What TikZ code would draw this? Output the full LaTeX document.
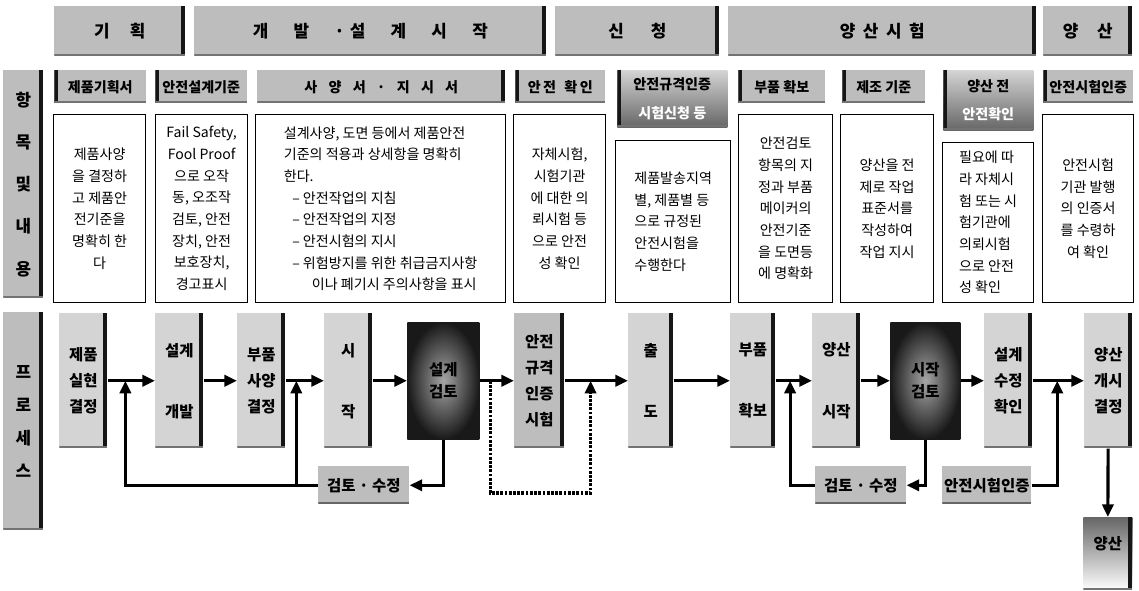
\documentclass[tikz,border=0pt]{standalone}
\usepackage{fontspec}
\setmainfont{Noto Sans CJK KR}
\usepackage{tikz}
\usetikzlibrary{arrows.meta,calc,positioning}
\definecolor{cinza}{HTML}{BDBDBD}
\definecolor{cinzaclaro}{HTML}{D4D4D4}
\definecolor{borda}{HTML}{161616}
\newcommand{\lgap}{\hspace{1.5em}}
\newcommand{\hgap}{\hspace{.8em}}

\begin{document}
\begin{tikzpicture}[x=0.025cm,y=-0.025cm,
  bx/.style args={#1,#2,#3,#4}{anchor=north west,inner sep=0pt,
    minimum width={(#3-#1)*0.025cm},minimum height={(#4-#2)*0.025cm},at={(#1,#2)}},
  sombra/.style={path picture={
    \fill[borda] ([xshift=-3pt]path picture bounding box.north east) rectangle (path picture bounding box.south east);
    \fill[black!55] ([yshift=1.4pt]path picture bounding box.south west) rectangle (path picture bounding box.south east);}},
  sombraesq/.style={path picture={
    \fill[borda] (path picture bounding box.north west) rectangle ([xshift=2.5pt]path picture bounding box.south west);
    \fill[black!55] ([yshift=1.4pt]path picture bounding box.south west) rectangle (path picture bounding box.south east);}},
  fase/.style={fill=cinza,sombra,font=\fontsize{12}{14}\selectfont\bfseries},
  lateral/.style={fill=cinza,sombra,align=center,font=\fontsize{12}{30}\selectfont\bfseries},
  cabec/.style={fill=cinza,sombraesq,align=center,font=\fontsize{10}{12}\selectfont\bfseries},
  cabecesc/.style={top color=cinzaclaro,bottom color=black!60,sombraesq,align=center,
    font=\fontsize{10}{20}\selectfont\bfseries},
  conteudo/.style={draw=black,line width=0.9pt,fill=white,align=center,
    font=\fontsize{10}{15.4}\selectfont},
  proc/.style={fill=cinzaclaro,sombra,align=center,font=\fontsize{11}{18.5}\selectfont\bfseries},
  escuro/.style={inner color=black!35,outer color=black!90,align=center,
    font=\fontsize{11}{16}\selectfont\bfseries},
  rotulo/.style={fill=cinza,inner sep=0pt,font=\fontsize{11}{13}\selectfont\bfseries,
    path picture={\fill[black!60] ([yshift=1.4pt]path picture bounding box.south west) rectangle (path picture bounding box.south east);}},
  final/.style={top color=black!60,bottom color=white,sombra,font=\fontsize{11}{13}\selectfont\bfseries},
  seta/.style={-{Triangle[length=9pt,width=8pt]},line width=2.2pt,black},
  tracejado/.style={-{Triangle[length=9pt,width=8pt]},line width=2.2pt,black,dash pattern=on 2pt off 1pt}
]
  \path[fill=white,use as bounding box] (0,0) rectangle (1139,591);

  \node[fase,bx={54,6,185,56}] (gihoek) {기\hspace{1.2em}획};
  \node[fase,bx={194,6,546,56}] (gaebal) {개\lgap 발\lgap ·\hspace{.3em}설\lgap 계\lgap 시\lgap 작};
  \node[fase,bx={555,6,719,56}] (sincheong) {신\hspace{1.6em}청};
  \node[fase,bx={728,6,1036,56}] (siheom) {양\hspace{.45em}산\hspace{.45em}시\hspace{.45em}험};
  \node[fase,bx={1043,6,1132,56}] (yangsan) {양\hspace{1.1em}산};

  \node[lateral,bx={3,70,43,298}] (hangmok) {항\\목\\및\\내\\용};
  \node[lateral,bx={3,312,43,530},font=\fontsize{12}{23.5}\selectfont\bfseries] (peuro) {프\\로\\세\\스};

  \node[cabec,bx={54,70,146,103}] (hgihoek) {제품기획서};
  \node[cabec,bx={155,70,247,103}] (hgijun) {안전설계기준};
  \node[cabec,bx={257,70,505,103},sombra] (hsayang) {사\hgap 양\hgap 서\hgap ·\hgap 지\hgap 시\hgap 서};
  \node[cabec,bx={515,70,605,103}] (hhwagin) {안\,전\hspace{.6em}확\,인};
  \node[cabecesc,bx={617,70,727,127}] (hsincheong) {안전규격인증\\\textcolor{white}{시험신청 등}};
  \node[cabec,bx={738,70,825,103}] (hbupum) {부품 확보};
  \node[cabec,bx={842,70,925,103}] (hjejo) {제조 기준};
  \node[cabecesc,bx={943,70,1033,130}] (hjeon) {양산 전\\\textcolor{white}{안전확인}};
  \node[cabec,bx={1043,70,1133,103}] (hinjeung) {안전시험인증};

  \node[conteudo,bx={53,114,145,302}] (cgihoek) {제품사양\\을 결정하\\고 제품안\\전기준을\\명확히 한\\다};
  \node[conteudo,bx={155,114,247,302}] (cgijun) {Fail Safety,\\Fool Proof\\으로 오작\\동, 오조작\\검토, 안전\\장치, 안전\\보호장치,\\경고표시};
  \node[conteudo,bx={255,114,505,302},align=left] (csayang) {설계사양, 도면 등에서 제품안전\\기준의 적용과 상세항을 명확히\\한다.\\\hspace*{.6em}– 안전작업의 지침\\\hspace*{.6em}– 안전작업의 지정\\\hspace*{.6em}– 안전시험의 지시\\\hspace*{.6em}– 위험방지를 위한 취급금지사항\\\hspace*{2em}이나 폐기시 주의사항을 표시};
  \node[conteudo,bx={513,114,605,302}] (chwagin) {자체시험,\\시험기관\\에 대한 의\\뢰시험 등\\으로 안전\\성 확인};
  \node[conteudo,bx={615,140,730,302},align=left] (csincheong) {제품발송지역\\별, 제품별 등\\으로 규정된\\안전시험을\\수행한다};
  \node[conteudo,bx={738,114,832,302}] (cbupum) {안전검토\\항목의 지\\정과 부품\\메이커의\\안전기준\\을 도면등\\에 명확화};
  \node[conteudo,bx={840,114,933,302}] (cjejo) {양산을 전\\제로 작업\\표준서를\\작성하여\\작업 지시};
  \node[conteudo,bx={942,142,1033,302},align=left] (cjeon) {필요에 따\\라 자체시\\험 또는 시\\험기관에\\의뢰시험\\으로 안전\\성 확인};
  \node[conteudo,bx={1042,114,1133,302}] (cinjeung) {안전시험\\기관 발행\\의 인증서\\를 수령하\\여 확인};

  \node[proc,bx={59,313,107,448}] (silhyeon) {제품\\실현\\결정};
  \node[proc,bx={155,313,203,448}] (seolgye) {설계\\[25pt]개발};
  \node[proc,bx={237,313,285,448}] (bupum) {부품\\사양\\결정};
  \node[proc,bx={324,313,372,448}] (sijak) {시\\[25pt]작};
  \node[escuro,bx={407,322,479,439}] (geomto) {설계\\검토};
  \node[proc,bx={514,313,564,448},fill=cinza] (injeung) {안전\\규격\\인증\\시험};
  \node[proc,bx={628,313,673,448}] (chuldo) {출\\[25pt]도};
  \node[proc,bx={730,313,775,448}] (hwakbo) {부품\\[25pt]확보};
  \node[proc,bx={812,313,860,448}] (yangsansijak) {양산\\[25pt]시작};
  \node[escuro,bx={890,322,960,439}] (sijakgeomto) {시작\\검토};
  \node[proc,bx={984,313,1032,448}] (sujeong) {설계\\수정\\확인};
  \node[proc,bx={1084,313,1132,448}] (gaesi) {양산\\개시\\결정};

  \node[rotulo,bx={318,466,409,504}] (geomsu1) {검토 · 수정};
  \node[rotulo,bx={815,466,906,504}] (geomsu2) {검토 · 수정};
  \node[rotulo,bx={942,466,1031,504}] (ansi) {안전시험인증};
  \node[final,bx={1083,517,1132,590}] (yangsanf) {\raisebox{16pt}{양산}};

  \coordinate (j1) at ($(silhyeon.east)!0.375!(seolgye.west)$);
  \coordinate (j2) at ($(bupum.east)!0.28!(sijak.west)$);
  \coordinate (d1) at ($(geomto.east)!0.31!(injeung.west)$);
  \coordinate (d2) at ($(injeung.east)!0.41!(chuldo.west)$);
  \coordinate (d3) at (540,493);
  \coordinate (j3) at ($(hwakbo.east)!0.4!(yangsansijak.west)$);
  \coordinate (j4) at ($(sujeong.east)!0.48!(gaesi.west)$);

  \draw[seta] (silhyeon) -- (seolgye);
  \draw[seta] (seolgye) -- (bupum);
  \draw[seta] (bupum) -- (sijak);
  \draw[seta] (sijak) -- (geomto);
  \draw[seta] (geomto) -- (injeung);
  \draw[seta] (injeung) -- (chuldo);
  \draw[seta] (chuldo) -- (hwakbo);
  \draw[seta] (hwakbo) -- (yangsansijak);
  \draw[seta] (yangsansijak) -- (sijakgeomto);
  \draw[seta] (sijakgeomto) -- (sujeong);
  \draw[seta] (sujeong) -- (gaesi);

  \draw[seta] (geomto.south) |- (geomsu1.east);
  \draw[seta] (geomsu1.west) -| (j1);
  \draw[seta] (j2 |- geomsu1.west) -- (j2);
  \draw[tracejado] (d1) |- (d3) -| (d2);
  \draw[seta] (sijakgeomto.south) |- (geomsu2.east);
  \draw[seta] (geomsu2.west) -| (j3);
  \draw[seta] (ansi.east) -| (j4);
  \draw[seta] (gaesi) -- (yangsanf);
\end{tikzpicture}
\end{document}
